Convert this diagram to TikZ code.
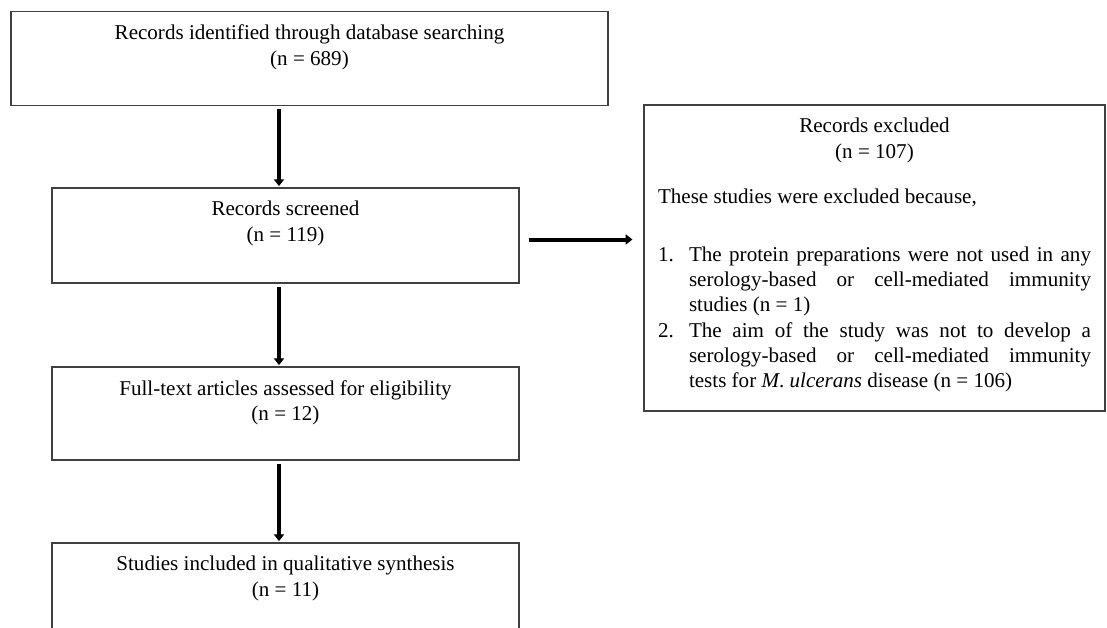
\documentclass[tikz,border=0pt]{standalone}
\usepackage{fontspec}
\setmainfont{Liberation Serif}
\usepackage{enumitem}
\usetikzlibrary{positioning,arrows.meta}

\tikzset{
  flowbox/.style={draw=black!75, line width=0.9pt, rectangle, inner sep=0pt},
  boxtext/.style={align=center, inner sep=0pt},
  flowarrow/.style={line width=3pt, -{Triangle[width=7.5pt,length=5pt]}},
}

\begin{document}
\begin{tikzpicture}[x=0.75pt,y=0.75pt,yscale=-1,xscale=1,
  font=\fontsize{15.8}{19}\selectfont]
	\useasboundingbox (0,0) rectangle (1107,628);
	\clip (0,0) rectangle (1107,628);
	\coordinate (spine) at (279,0);

	%Boxes of the flow
	\node[flowbox, minimum width=447.75pt, minimum height=70.5pt] (ident) at (309.5,58.5) {};
	\node[flowbox, minimum width=350.25pt, minimum height=71.25pt] (screen) at (285.5,235.5) {};
	\node[flowbox, minimum width=350.25pt, minimum height=69.75pt] (full) at (285.5,413.5) {};
	\node[flowbox, minimum width=350.25pt, minimum height=69.75pt] (incl) at (285.5,589.5) {};
	%Box of the excluded records
	\node[flowbox, minimum width=345.75pt, minimum height=229.5pt] (excl) at (874.5,258) {};

	% Text Nodes
	\node[boxtext, below=10.25pt of ident.north] (identtxt) {Records identified through database searching\\(n = 689)};
	\node[boxtext, below=10.25pt of screen.north] (screentxt) {Records screened\\(n = 119)};
	\node[boxtext, below=10.25pt of full.north] (fulltxt) {Full-text articles assessed for eligibility\\(n = 12)};
	\node[boxtext, below=10.25pt of incl.north] (incltxt) {Studies included in qualitative synthesis\\(n = 11)};
	\node[boxtext, text width=324.75pt, align=justify, below=10.25pt of excl.north] (excltxt) {%
		{\centering Records excluded\\(n = 107)\par}
		\vspace{14.75pt}
		These studies were excluded because,\par
		\vspace{24.5pt}
		\begin{enumerate}[label=\arabic*., leftmargin=23.25pt, labelwidth=23.25pt, labelsep=0pt, align=left, topsep=0pt, partopsep=0pt, itemsep=0pt, parsep=0pt]
			\item The protein preparations were not used in any\linebreak serology-based or cell-mediated immunity\linebreak studies (n = 1)
			\item The aim of the study was not to develop a\linebreak serology-based or cell-mediated immunity\linebreak tests for \textit{M}. \textit{ulcerans} disease (n = 106)
		\end{enumerate}};

	%Arrows
	\draw[flowarrow, shorten <=2.25pt, shorten >=1pt] (ident.south -| spine) -- (screen.north -| spine);
	\draw[flowarrow, shorten <=2.25pt, shorten >=1pt] (screen.south -| spine) -- (full.north -| spine);
	\draw[flowarrow, shorten <=2.25pt, shorten >=1pt] (full.south -| spine) -- (incl.north -| spine);
	\draw[flowarrow, shorten <=6.75pt, shorten >=8.25pt] ([yshift=3pt]screen.east) -- ([yshift=3pt]screen.east -| excl.west);

\end{tikzpicture}
\end{document}
